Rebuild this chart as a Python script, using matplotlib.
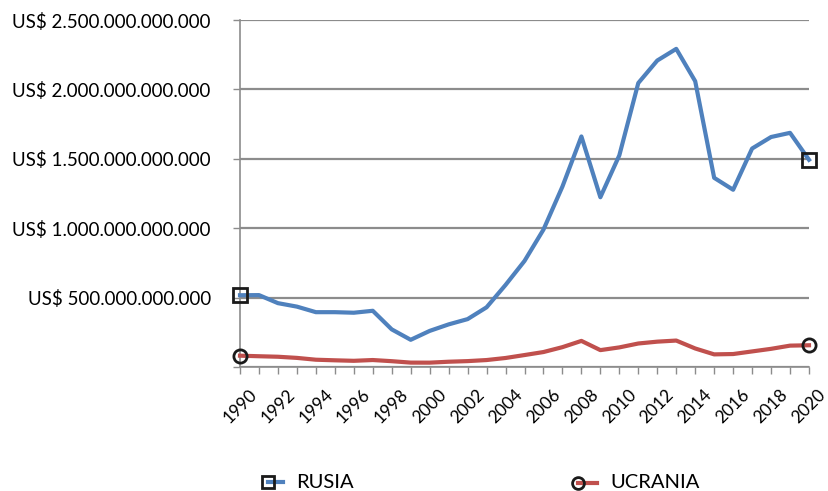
import matplotlib
matplotlib.use("Agg")
import matplotlib.pyplot as plt
from matplotlib.lines import Line2D
from matplotlib.ticker import FuncFormatter, MultipleLocator

years = list(range(1990, 2021))
rusia = [517e9, 518e9, 460e9, 435e9, 395e9, 395e9, 391e9, 405e9, 271e9, 196e9,
         260e9, 307e9, 345e9, 430e9, 591e9, 764e9, 990e9, 1300e9, 1661e9, 1223e9,
         1525e9, 2046e9, 2208e9, 2292e9, 2059e9, 1363e9, 1277e9, 1574e9, 1657e9, 1687e9,
         1493e9]
ucrania = [81.5e9, 77.5e9, 73.9e9, 65.6e9, 52.5e9, 48.2e9, 44.6e9, 50.2e9, 41.9e9, 31.6e9,
           31.3e9, 38.0e9, 42.4e9, 50.1e9, 64.9e9, 86.1e9, 107.8e9, 143.0e9, 188.0e9, 121.6e9,
           141.2e9, 169.3e9, 182.6e9, 190.5e9, 133.5e9, 91.0e9, 93.4e9, 112.2e9, 130.9e9, 153.9e9,
           156.6e9]
series_names = ["RUSIA", "UCRANIA"]

plt.rcParams['font.family'] = ['Lato', 'DejaVu Sans']

W, H = 829, 491
fig = plt.figure(figsize=(W / 100, H / 100), dpi=100)
ax = fig.add_axes([240 / W, 1 - 367 / H, (809 - 240) / W, (367 - 20) / H])

blue = "#4F81BD"
red = "#C0504D"
edge = "#1a1a1a"
last = len(years) - 1
ax.plot(years, rusia, color=blue, lw=3.0, marker='s', markevery=[0, last],
        markersize=10, markerfacecolor='none', markeredgecolor=edge, markeredgewidth=2,
        zorder=3, clip_on=False)
ax.plot(years, ucrania, color=red, lw=3.0, marker='o', markevery=[0, last],
        markersize=9.5, markerfacecolor='none', markeredgecolor=edge, markeredgewidth=2,
        zorder=3, clip_on=False)

ax.set_xlim(1990, 2020)
ax.set_ylim(0, 2.5e12)
ax.yaxis.set_major_locator(MultipleLocator(5e11))

def yfmt(v, pos):
    if v <= 0:
        return ""
    return "US$ " + f"{int(round(v)):,}".replace(",", ".")
ax.yaxis.set_major_formatter(FuncFormatter(yfmt))
ax.grid(axis='y', color='#8C8C8C', lw=1.6)
ax.set_axisbelow(True)

ax.set_xticks(years[::2])
ax.set_xticks(years, minor=True)
ax.set_xticklabels([str(y) for y in years[::2]], rotation=45, ha='center', va='top',
                   fontsize=12.5)
ax.tick_params(axis='x', which='both', length=5, color='#8C8C8C', width=1, pad=9)
ax.tick_params(axis='y', length=5, color='#8C8C8C', width=1, labelsize=13.5, pad=16)

for s in ['top', 'right']:
    ax.spines[s].set_visible(False)
for s in ['left', 'bottom']:
    ax.spines[s].set_color('#8C8C8C')
    ax.spines[s].set_linewidth(1.2)

# legend drawn manually (marker at left, short line to the right, as in the reference)
def legend_entry(xm, xl_end, xt, yc, color, marker, ms, label):
    y = 1 - yc / H
    fig.add_artist(Line2D([xm / W, xl_end / W], [y, y], color=color, lw=3,
                          transform=fig.transFigure))
    fig.add_artist(Line2D([xm / W], [y], color=color, lw=0, marker=marker, markersize=ms,
                          markerfacecolor='none', markeredgecolor=edge, markeredgewidth=2,
                          transform=fig.transFigure))
    fig.text(xt / W, y, label, fontsize=14.5, ha='left', va='center')

legend_entry(268, 283, 296, 482, blue, 's', 9, series_names[0])
legend_entry(578, 597, 610, 483, red, 'o', 8.5, series_names[1])

fig.savefig("out.png", dpi=100)
